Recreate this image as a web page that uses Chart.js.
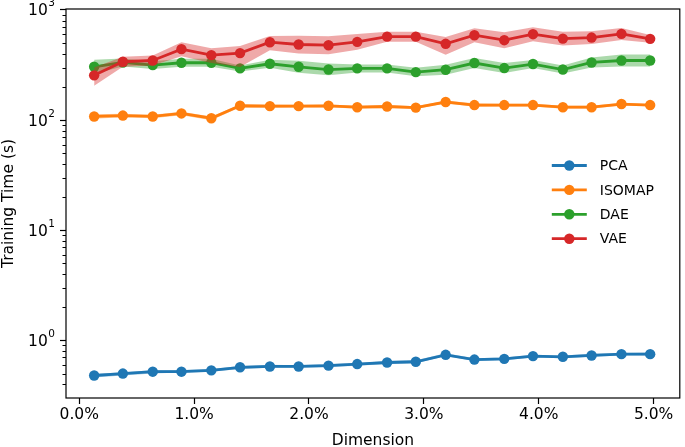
<!DOCTYPE html>
<html>
<head>
<meta charset="utf-8">
<script src="https://cdn.jsdelivr.net/npm/chart.js@4.4.0/dist/chart.umd.min.js"></script>
<style>
  body { margin: 0; background: #fff; }
  #wrap { position: relative; width: 685px; height: 447px; }
</style>
</head>
<body>
<div id="wrap"><canvas id="timeChart" width="685" height="447"></canvas></div>
<script>
// x = dimension as share of input size (%)
const dimensions = [0.13, 0.38, 0.64, 0.89, 1.15, 1.40, 1.66, 1.91, 2.17, 2.42, 2.68, 2.93, 3.19, 3.44, 3.70, 3.95, 4.21, 4.46, 4.72, 4.97]

const pcaTime  = [0.48, 0.50, 0.52, 0.52, 0.535, 0.57, 0.58, 0.58, 0.59, 0.61, 0.63, 0.64, 0.74, 0.67, 0.68, 0.72, 0.71, 0.73, 0.75, 0.75]
const pcaLow   = [0.46, 0.48, 0.50, 0.51, 0.52, 0.55, 0.565, 0.565, 0.575, 0.59, 0.61, 0.62, 0.72, 0.65, 0.66, 0.70, 0.69, 0.71, 0.73, 0.73]
const pcaHigh  = [0.495, 0.515, 0.535, 0.54, 0.55, 0.585, 0.60, 0.595, 0.61, 0.625, 0.65, 0.66, 0.765, 0.69, 0.70, 0.74, 0.73, 0.755, 0.77, 0.775]

const isoTime  = [108, 110, 108, 115, 104, 135, 134, 134, 135, 131, 133, 130, 146, 137, 137, 137, 131, 131, 140, 137]
const isoLow   = [103, 106, 104, 111, 100, 131, 129, 130, 131, 127, 129, 126, 142, 132, 133, 133, 127, 127, 136, 134]
const isoHigh  = [113, 114, 112, 119, 108, 139, 139, 138, 139, 135, 137, 134, 150, 142, 141, 141, 135, 135, 144, 140]

const daeTime  = [305, 334, 316, 332, 332, 295, 325, 305, 288, 295, 295, 273, 287, 330, 297, 323, 288, 334, 348, 348]
const daeLow   = [264, 307, 291, 305, 305, 277, 299, 269, 255, 271, 271, 250, 258, 297, 268, 297, 265, 301, 307, 307]
const daeHigh  = [353, 363, 343, 360, 360, 313, 353, 346, 327, 320, 320, 299, 318, 366, 330, 351, 313, 370, 394, 394]

const vaeTime  = [255, 339, 348, 441, 389, 406, 510, 486, 479, 514, 573, 573, 493, 590, 532, 603, 550, 562, 607, 547]
const vaeLow   = [205, 305, 313, 381, 330, 303, 432, 402, 397, 435, 516, 516, 392, 510, 450, 521, 475, 490, 535, 503]
const vaeHigh  = [300, 376, 386, 510, 450, 470, 581, 585, 578, 606, 636, 636, 570, 683, 628, 697, 636, 642, 687, 594]

const seriesNames = ['PCA', 'ISOMAP', 'DAE', 'VAE']
const seriesColors = ['#1f77b4', '#ff7f0e', '#2ca02c', '#d62728']
const bandColors = ['rgba(31,119,180,0.4)', 'rgba(255,127,14,0.4)', 'rgba(44,160,44,0.4)', 'rgba(214,39,40,0.4)']

const xTickValues = [0, 1, 2, 3, 4, 5]
const yMajorTicks = [1, 10, 100, 1000]
const yTickExponents = ['0', '1', '2', '3']
const yMinorTicks = [0.4, 0.5, 0.6, 0.7, 0.8, 0.9, 2, 3, 4, 5, 6, 7, 8, 9,
                     20, 30, 40, 50, 60, 70, 80, 90, 200, 300, 400, 500, 600, 700, 800, 900]

const FONT = '"DejaVu Sans", sans-serif'

function toPoints(values) {
    return values.map((v, i) => ({ x: dimensions[i], y: v }))
}

function buildDatasets() {
    const mids = [pcaTime, isoTime, daeTime, vaeTime]
    const lows = [pcaLow, isoLow, daeLow, vaeLow]
    const highs = [pcaHigh, isoHigh, daeHigh, vaeHigh]
    const datasets = []
    seriesNames.forEach((name, i) => {
        const base = 100 - i * 3
        datasets.push({ data: toPoints(lows[i]), borderWidth: 0, borderColor: 'transparent', pointRadius: 0, fill: false, order: base })
        datasets.push({ data: toPoints(highs[i]), borderWidth: 0, borderColor: 'transparent', pointRadius: 0,
                        fill: '-1', backgroundColor: bandColors[i], order: base - 1 })
        datasets.push({
            label: name, data: toPoints(mids[i]),
            borderColor: seriesColors[i], backgroundColor: seriesColors[i],
            borderWidth: 2.8, pointRadius: 5.2, pointBorderWidth: 0,
            fill: false, order: base - 2
        })
    })
    return datasets
}

// axes box, minor log ticks and the 10^n labels
const framePlugin = {
    id: 'frame',
    afterDraw(chart) {
        const ctx = chart.ctx
        const area = chart.chartArea
        const y = chart.scales.y
        ctx.save()
        ctx.strokeStyle = '#000'
        ctx.lineWidth = 1.2
        ctx.strokeRect(area.left, area.top, area.right - area.left, area.bottom - area.top)
        ctx.lineWidth = 1
        yMinorTicks.forEach(v => {
            const py = Math.round(y.getPixelForValue(v)) + 0.5
            ctx.beginPath()
            ctx.moveTo(area.left - 3.5, py)
            ctx.lineTo(area.left, py)
            ctx.stroke()
        })

        ctx.fillStyle = '#000'
        ctx.textAlign = 'right'
        ctx.textBaseline = 'alphabetic'
        yMajorTicks.forEach((v, i) => {
            const py = y.getPixelForValue(v)
            const expX = area.left - 11
            ctx.font = '10.5px ' + FONT
            const expW = ctx.measureText(yTickExponents[i]).width
            ctx.fillText(yTickExponents[i], expX, py - 3.5)
            ctx.font = '15.5px ' + FONT
            ctx.fillText('10', expX - expW - 0.5, py + 5.5)
        })
        ctx.restore()
    }
}

const legendPlugin = {
    id: 'insideLegend',
    afterDraw(chart) {
        const ctx = chart.ctx
        const area = chart.chartArea
        const x0 = area.right - 128
        const y0 = area.top + 156.5
        ctx.save()
        ctx.font = '14px ' + FONT
        ctx.textBaseline = 'middle'
        seriesNames.forEach((name, i) => {
            const y = y0 + i * 24.4
            ctx.strokeStyle = seriesColors[i]
            ctx.fillStyle = seriesColors[i]
            ctx.lineWidth = 2.8
            ctx.beginPath()
            ctx.moveTo(x0, y)
            ctx.lineTo(x0 + 35, y)
            ctx.stroke()
            ctx.beginPath()
            ctx.arc(x0 + 17.5, y, 5.2, 0, Math.PI * 2)
            ctx.fill()
            ctx.fillStyle = '#000'
            ctx.fillText(name, x0 + 48, y + 1)
        })
        ctx.restore()
    }
}

new Chart(document.getElementById('timeChart'), {
    type: 'line',
    data: { datasets: buildDatasets() },
    plugins: [framePlugin, legendPlugin],
    options: {
        responsive: false,
        animation: false,
        events: [],
        layout: { padding: { top: 9, right: 2, left: 0, bottom: 0 } },
        elements: { line: { tension: 0 } },
        plugins: {
            legend: { display: false },
            tooltip: { enabled: false }
        },
        scales: {
            x: {
                type: 'linear',
                min: -0.115,
                max: 5.228,
                afterBuildTicks: scale => { scale.ticks = xTickValues.map(v => ({ value: v })) },
                afterFit: scale => {
                    scale.height = 49
                    scale.paddingLeft = 0
                    scale.paddingRight = 0
                },
                ticks: {
                    color: '#000', padding: 2, maxRotation: 0,
                    font: { family: FONT, size: 15.5 },
                    callback: v => v.toFixed(1) + '%'
                },
                grid: { drawOnChartArea: false, tickLength: 6, tickColor: '#000', tickWidth: 1.2 },
                border: { display: false },
                title: { display: true, text: 'Dimension', color: '#000', padding: { top: 0, bottom: -3 },
                         font: { family: FONT, size: 15.5 } }
            },
            y: {
                type: 'logarithmic',
                min: 0.311,
                max: 1021,
                afterBuildTicks: scale => { scale.ticks = yMajorTicks.map(v => ({ value: v })) },
                afterFit: scale => {
                    scale.width = 66
                    scale.paddingTop = 0
                    scale.paddingBottom = 0
                },
                ticks: {
                    color: '#000', padding: 4,
                    font: { family: FONT, size: 15.5 },
                    callback: () => ''
                },
                grid: { drawOnChartArea: false, tickLength: 6, tickColor: '#000', tickWidth: 1.2 },
                border: { display: false },
                title: { display: true, text: 'Training Time (s)', color: '#000', padding: 0,
                         font: { family: FONT, size: 15.5 } }
            }
        }
    }
})
</script>
</body>
</html>
